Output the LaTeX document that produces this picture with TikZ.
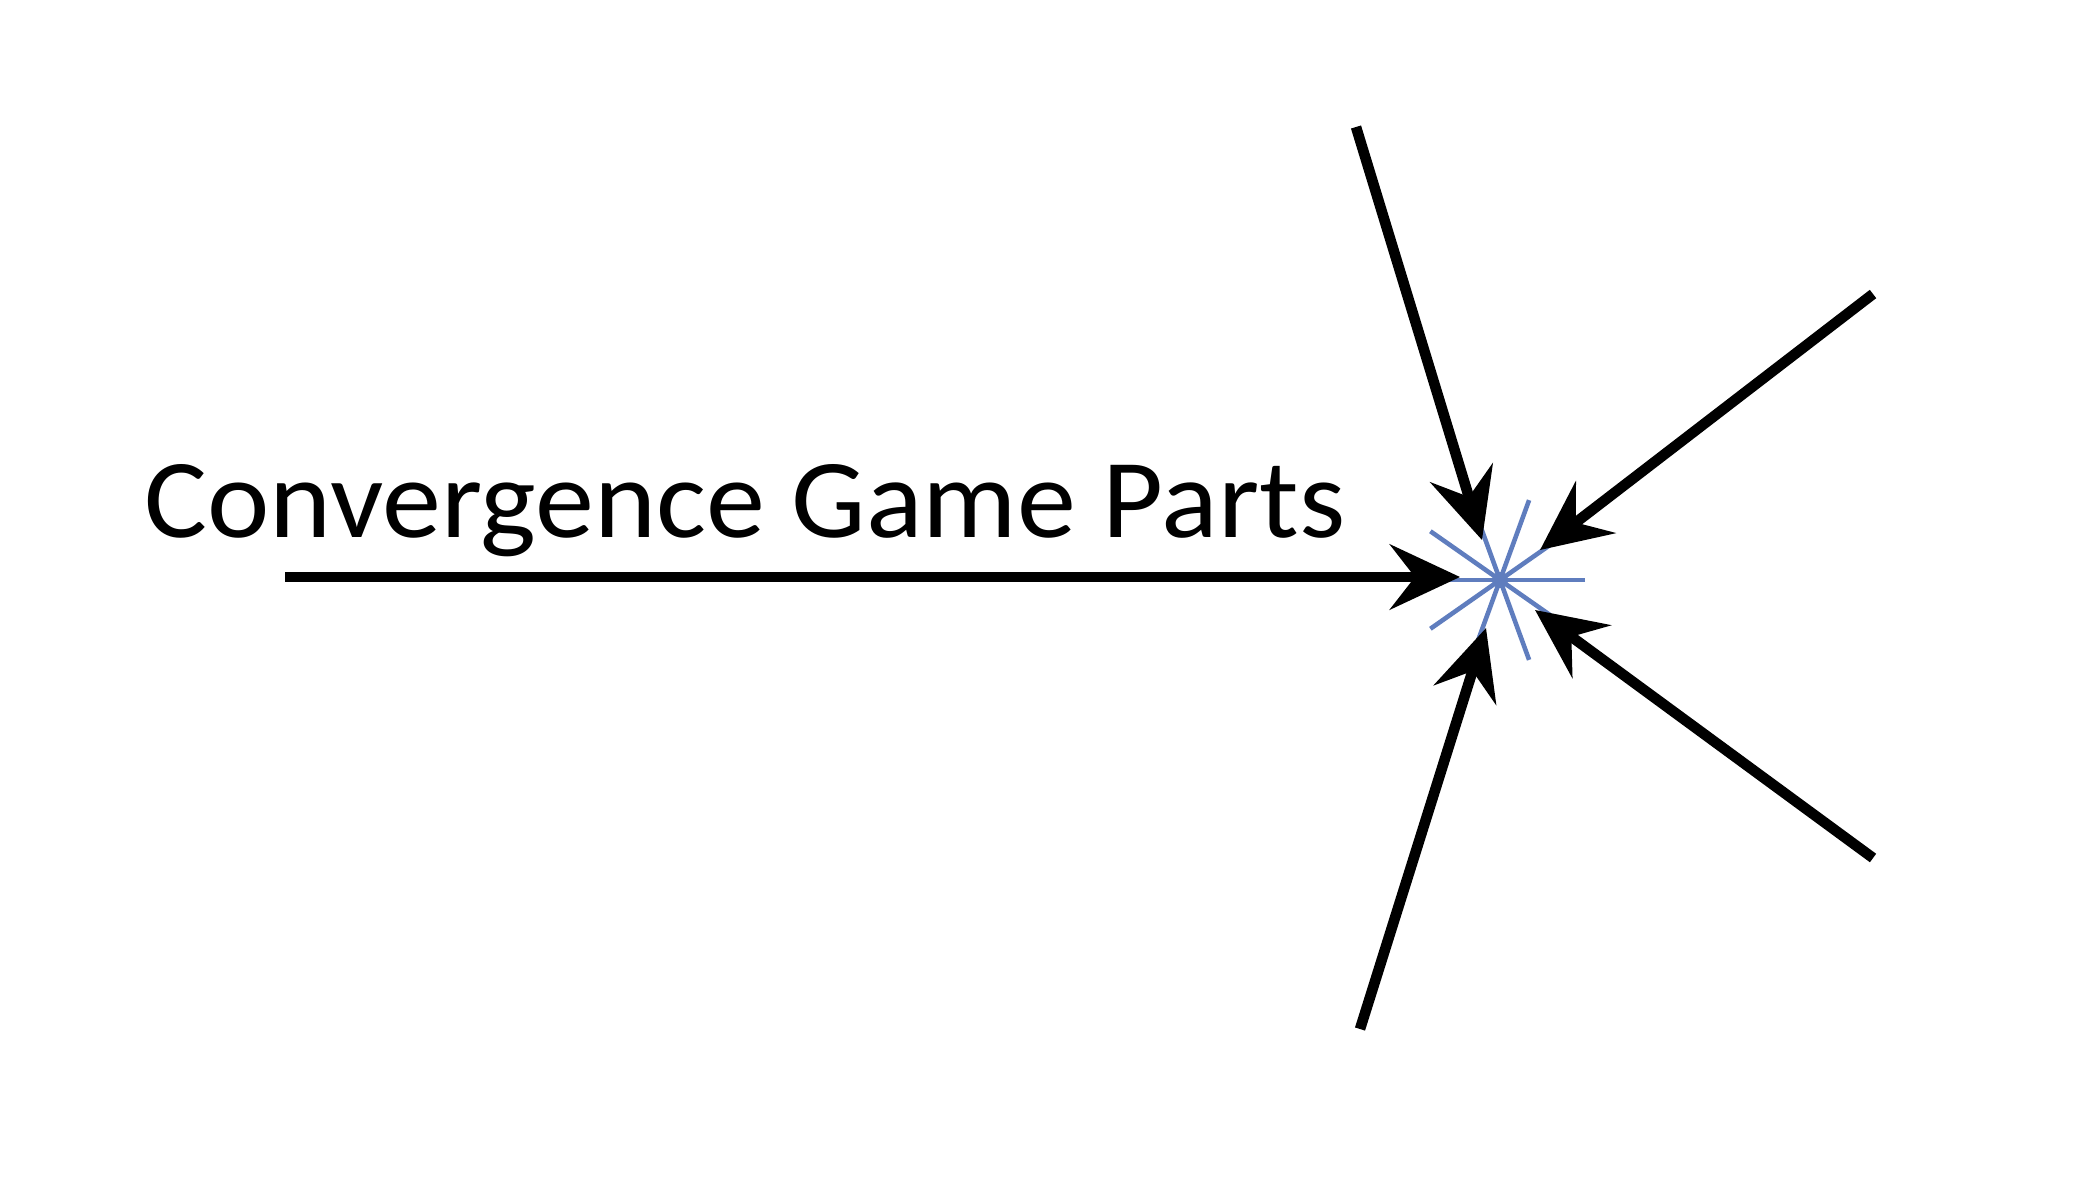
\documentclass[tikz,border=0pt]{standalone}
\usepackage{fontspec}
\setmainfont{Carlito}
\usetikzlibrary{arrows.meta,calc}
\definecolor{sparkblue}{RGB}{95,125,190}
\tikzset{pull/.style={line width=3pt,-{Stealth[length=7mm,width=6.5mm,inset=2.5mm]}},
  spark/.style={draw=sparkblue,line width=1.3pt}}
\begin{document}
\begin{tikzpicture}[x=0.01cm,y=-0.01cm]
  \useasboundingbox (0,0) rectangle (2095,1200);
  \coordinate (hub) at (1500,580);
  % blue spark at the meeting point
  \foreach \a in {0,35,70,110,145}
    \draw [spark] ($(hub)+(\a:85)$) -- ($(hub)+(\a+180:85)$);
  \fill [sparkblue] (hub) circle (8);
  \coordinate (left) at (285,577);
  \coordinate (top) at (1356,127);
  \coordinate (upright) at (1873,294);
  \coordinate (downright) at (1873,858);
  \coordinate (bottom) at (1360,1029);
  \draw [pull] (left) -- (1460,577);
  \draw [pull] (top) -- (1482,540);
  \draw [pull] (upright) -- (1540,550);
  \draw [pull] (downright) -- (1535,610);
  \draw [pull] (bottom) -- (1486,628);
  \node [anchor=base west,font=\fontsize{32}{34}\selectfont,inner sep=0pt,xscale=1.05,transform shape] (title) at (144,537) {Convergence Game Parts};
\end{tikzpicture}
\end{document}
